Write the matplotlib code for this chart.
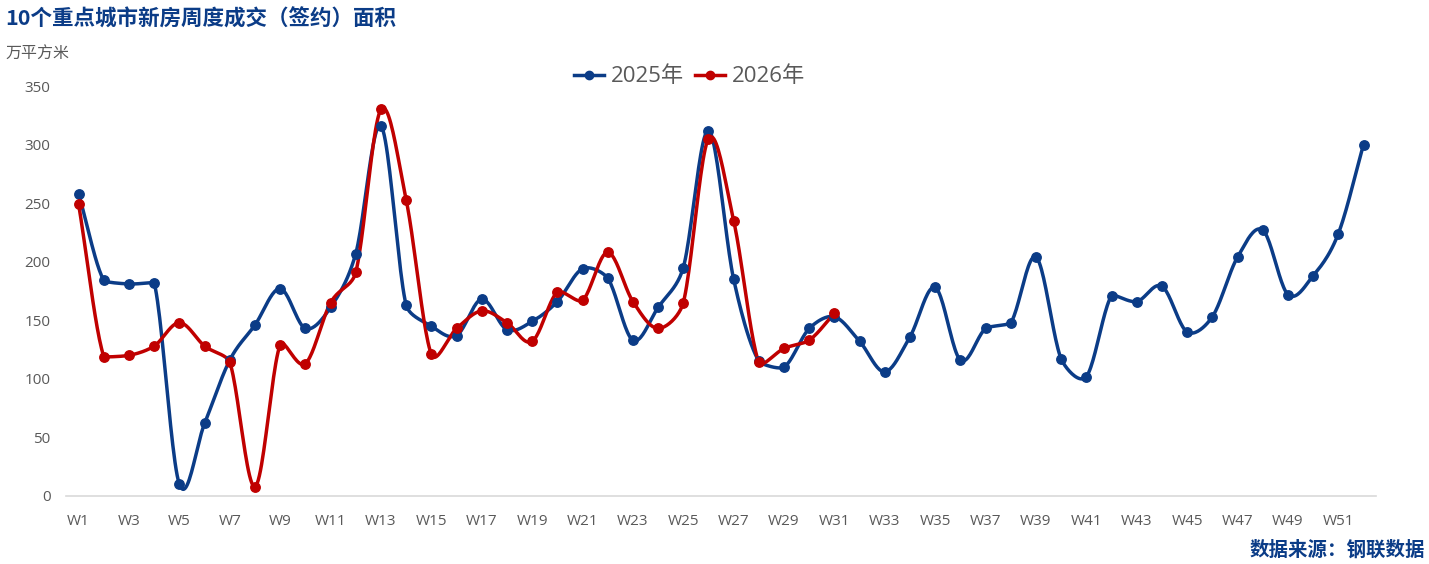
import numpy as np
import matplotlib
matplotlib.use("Agg")
import matplotlib.pyplot as plt
from matplotlib.lines import Line2D

plt.rcParams['font.family'] = ['Noto Sans CJK SC', 'DejaVu Sans']

weeks = [f"W{i}" for i in range(1, 53)]
tick_labels = [f"W{i}" for i in range(1, 53, 2)]
y2025 = [258, 184, 181, 182, 10, 62, 116, 146, 177, 143, 161, 207, 316, 163, 145, 137,
         168, 142, 149, 166, 194, 186, 133, 161, 195, 312, 185, 115, 110, 143, 153, 132,
         106, 136, 178, 116, 143, 148, 204, 117, 102, 171, 166, 179, 140, 153, 204, 227,
         172, 188, 224, 300]
y2026 = [249, 119, 120, 128, 148, 128, 114, 8, 129, 113, 165, 191, 330, 253, 121, 143,
         158, 148, 132, 174, 167, 208, 166, 143, 165, 305, 235, 114, 126, 133, 156]
series_names = ["2025年", "2026年"]
colors = ["#0B3C87", "#C00000"]

SX = 1.0   # smoothing metric: units per category step
SY = 1.0   # smoothing metric: units per data unit


def smooth(x, y, n=24):
    # Excel-style smoothed line: Bezier segments with limited handles
    P = np.column_stack([np.asarray(x, float) * SX, np.asarray(y, float) * SY])
    m = len(P)
    out = [P[0]]
    t = np.linspace(0, 1, n)[1:][:, None]
    for i in range(m - 1):
        p1, p2 = P[i], P[i + 1]
        p0 = P[i - 1] if i > 0 else p1
        p3 = P[i + 2] if i + 2 < m else p2
        f0 = 1 / 3 if i == 0 else 1 / 6
        f1 = 1 / 3 if i == m - 2 else 1 / 6
        d12 = np.linalg.norm(p2 - p1)
        d02 = np.linalg.norm(p2 - p0)
        d13 = np.linalg.norm(p3 - p1)
        if d02 * f0 < d12 / 2:
            c1 = p1 + (p2 - p0) * f0
        else:
            c1 = p1 + (p2 - p0) * (d12 / 2 / d02)
        if d13 * f1 < d12 / 2:
            c2 = p2 - (p3 - p1) * f1
        else:
            c2 = p2 - (p3 - p1) * (d12 / 2 / d13)
        b = (1 - t) ** 3 * p1 + 3 * (1 - t) ** 2 * t * c1 + 3 * (1 - t) * t ** 2 * c2 + t ** 3 * p2
        out.extend(b)
    out = np.array(out)
    return out[:, 0] / SX, out[:, 1] / SY


fig = plt.figure(figsize=(14.29, 5.64), dpi=100)
ax = fig.add_axes([0.0462, 0.1206, 0.9168, 0.7269])

for vals, c in zip([y2025, y2026], colors):
    xi = np.arange(len(vals))
    sx, sy = smooth(xi, vals)
    ax.plot(sx, sy, color=c, lw=2.5, solid_capstyle='round', zorder=2)
    ax.plot(xi, vals, 'o', color=c, ms=6.8, zorder=3)

ax.set_xlim(-0.5, 51.5)
ax.set_ylim(0, 350)
ax.set_yticks(range(0, 351, 50))
ax.set_xticks(range(0, 52, 2))
ax.set_xticklabels(tick_labels)
for s in ['top', 'right', 'left']:
    ax.spines[s].set_visible(False)
ax.spines['bottom'].set_color('#D9D9D9')
ax.spines['bottom'].set_linewidth(1.2)
ax.tick_params(axis='both', length=0, colors='#595959', labelsize=11)
ax.tick_params(axis='x', pad=13)
ax.tick_params(axis='y', pad=11)
for lab in ax.get_xticklabels() + ax.get_yticklabels():
    lab.set_fontfamily(['Open Sans', 'DejaVu Sans'])

handles = [Line2D([0], [0], color=c, lw=2.5, marker='o', ms=6) for c in colors]
leg = fig.legend(handles, series_names, loc='center', bbox_to_anchor=(0.4825, 0.8635),
                 ncol=2, frameon=False, fontsize=16, handlelength=1.35,
                 columnspacing=0.5, handletextpad=0.3,
                 prop={'family': ['Open Sans', 'Noto Sans CJK SC'], 'size': 16})
for t in leg.get_texts():
    t.set_color('#595959')

fig.text(0.004, 0.967, "10个重点城市新房周度成交（签约）面积", fontsize=15.5,
         fontweight='bold', color='#0B3C87', ha='left', va='center')
fig.text(0.004, 0.903, "万平方米", fontsize=11.5, color='#595959', ha='left', va='center')
fig.text(0.997, 0.025, "数据来源：钢联数据", fontsize=14, fontweight='bold',
         color='#0B3C87', ha='right', va='center')

fig.savefig("out.png", dpi=100)
